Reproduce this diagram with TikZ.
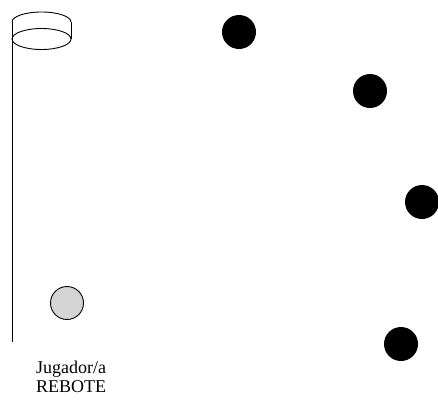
\documentclass[tikz,border=0pt]{standalone}
\usepackage{fontspec}
\setmainfont{Liberation Serif}
\usepackage{tikz}
\usetikzlibrary{positioning}
\definecolor{ballgray}{HTML}{D4D4D4}

\begin{document}
\begin{tikzpicture}[x=1pt,y=-1pt,
  rival/.style={circle, fill=black, minimum size=34pt, inner sep=0pt},
  rebote/.style={circle, draw=black, line width=0.9pt, fill=ballgray, minimum size=33pt, inner sep=0pt}]
\useasboundingbox (0,0) rectangle (438,402);

% canasta y poste
\draw[line width=0.9pt] (12,22) arc[start angle=180, end angle=360, x radius=29.5, y radius=10];
\draw[line width=0.9pt] (71,22) -- (71,39);
\draw[line width=0.9pt] (41.5,39) ellipse[x radius=29.5, y radius=10.5];
\draw[line width=0.9pt] (12,22) -- (12,342);

% jugadores
\node[rival] (def1) at (239,32) {};
\node[rival] (def2) at (370,91) {};
\node[rival] (def3) at (422,202) {};
\node[rival] (def4) at (401,344) {};
\node[rebote] (reb) at (67,303) {};
\node[align=center, font=\fontsize{18}{19}\selectfont] (lbl) at (71,377) {Jugador/a\\REBOTE};
\end{tikzpicture}
\end{document}
